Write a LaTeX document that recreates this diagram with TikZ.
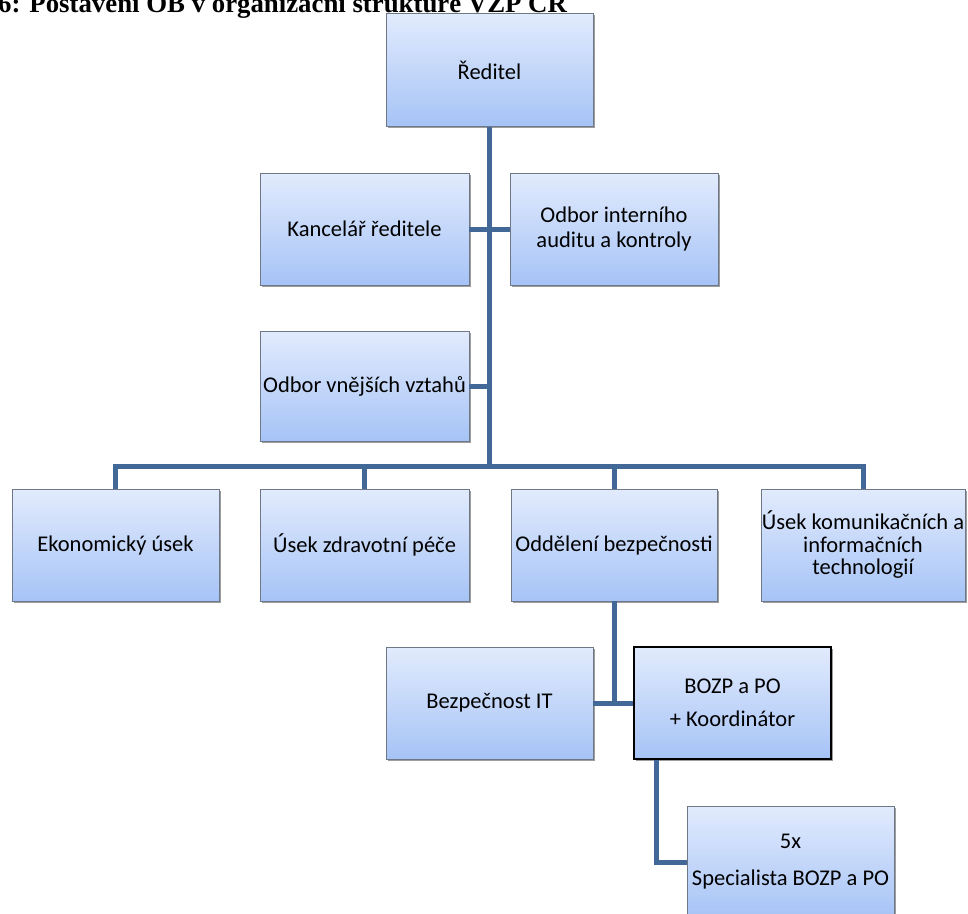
\documentclass[tikz,border=0pt]{standalone}
\usepackage{fontspec}
\setmainfont{Carlito}
\newfontfamily\titlefont{Liberation Serif}
\usetikzlibrary{shadings,shadows}
\definecolor{conn}{RGB}{66,104,152}
\definecolor{boxtop}{RGB}{226,235,253}
\definecolor{boxbot}{RGB}{166,195,246}
\definecolor{boxline}{RGB}{110,120,135}
\tikzset{
  orgbox/.style={rectangle, draw=boxline, line width=0.8pt, top color=boxtop, bottom color=boxbot,
    align=center, inner sep=0pt, font=\fontsize{22.5}{25}\selectfont,
    drop shadow={shadow xshift=1.8pt, shadow yshift=-1.8pt, fill=black!55, opacity=0.7}},
  keybox/.style={orgbox, draw=black, line width=2.2pt},
  link/.style={draw=conn, line width=5pt, line join=miter, line cap=butt},
}
\begin{document}
\begin{tikzpicture}[x=1pt,y=-1pt]
\useasboundingbox (0,0) rectangle (968,913);
\node[anchor=base west, inner sep=0pt, font=\titlefont\bfseries\fontsize{26.8}{30}\selectfont] (title) at (-2,12) {6: Postavení OB v organizační struktuře VZP ČR};

\node[orgbox, minimum width=207pt, minimum height=113pt] (red) at (489.5,70) {Ředitel};
\node[orgbox, minimum width=209pt, minimum height=112pt] (kanc) at (364.5,229) {Kancelář ředitele};
\node[orgbox, minimum width=208pt, minimum height=112pt] (aud) at (614,229) {Odbor interního\\auditu a kontroly};
\node[orgbox, minimum width=209pt, minimum height=110pt] (vne) at (364.5,386) {Odbor vnějších vztahů};
\node[orgbox, minimum width=207pt, minimum height=112pt] (eko) at (115.5,545) {Ekonomický úsek};
\node[orgbox, minimum width=209pt, minimum height=112pt] (zdr) at (364.5,545) {Úsek zdravotní péče};
\node[orgbox, minimum width=206pt, minimum height=112pt] (odd) at (614,545) {Oddělení bezpečnosti};
\node[orgbox, minimum width=204pt, minimum height=112pt, font=\fontsize{22.5}{22.5}\selectfont] (kom) at (863,545) {Úsek komunikačních a\\informačních\\technologií};
\node[orgbox, minimum width=207pt, minimum height=112pt] (bit) at (489.5,703) {Bezpečnost IT};
\node[keybox, minimum width=197pt, minimum height=112pt, font=\fontsize{22.5}{33}\selectfont] (bozp) at (732.5,703) {BOZP a PO\\+ Koordinátor};
\node[orgbox, minimum width=207pt, minimum height=112pt, font=\fontsize{22.5}{37}\selectfont] (spec) at (790.5,862) {5x\\Specialista BOZP a PO};

\coordinate (bus) at (489.5,466);
\coordinate (bozpout) at ([xshift=24pt]bozp.south west);

\path[link] (red.south) -- (bus);
\path[link] (kanc.east) -- (aud.west);
\path[link] (vne.east) -- (vne.east -| red.south);
\path[link] (eko.north) -- (eko.north |- bus) -- (kom.north |- bus) -- (kom.north);
\path[link] (zdr.north) -- (zdr.north |- bus);
\path[link] (odd.north) -- (odd.north |- bus);
\path[link] (odd.south) -- (odd.south |- bit.east);
\path[link] (bit.east) -- (bozp.west);
\path[link] (bozpout) |- (spec.west);
\end{tikzpicture}
\end{document}
